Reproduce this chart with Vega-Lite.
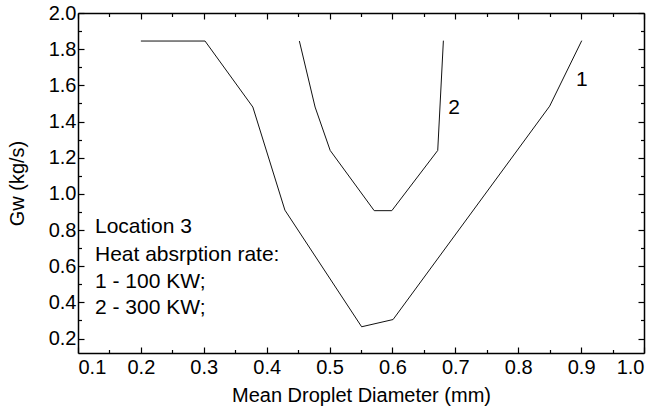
{
  "$schema": "https://vega.github.io/schema/vega-lite/v6.json",
  "width": 566,
  "height": 340,
  "autosize": {"type": "none"},
  "padding": {"left": 78, "top": 13, "right": 17, "bottom": 55},
  "background": "white",
  "config": {
    "view": {"stroke": null},
    "font": "Liberation Sans",
    "axis": {
      "grid": false,
      "domainColor": "black",
      "domainWidth": 1.5,
      "tickColor": "black",
      "tickWidth": 1.2,
      "labelColor": "black",
      "labelFont": "Liberation Sans",
      "labelFontSize": 20,
      "titleFont": "Liberation Sans",
      "titleFontSize": 20,
      "titleFontWeight": "normal",
      "titleColor": "black"
    }
  },
  "datasets": {
    "curves": [
      {"curve": "1", "d": 0.2, "g": 1.845},
      {"curve": "1", "d": 0.302, "g": 1.845},
      {"curve": "1", "d": 0.378, "g": 1.48},
      {"curve": "1", "d": 0.429, "g": 0.91},
      {"curve": "1", "d": 0.551, "g": 0.265},
      {"curve": "1", "d": 0.601, "g": 0.305},
      {"curve": "1", "d": 0.85, "g": 1.485},
      {"curve": "1", "d": 0.901, "g": 1.847},
      {"curve": "2", "d": 0.452, "g": 1.845},
      {"curve": "2", "d": 0.477, "g": 1.48},
      {"curve": "2", "d": 0.501, "g": 1.24},
      {"curve": "2", "d": 0.571, "g": 0.907},
      {"curve": "2", "d": 0.599, "g": 0.907},
      {"curve": "2", "d": 0.672, "g": 1.24},
      {"curve": "2", "d": 0.681, "g": 1.847}
    ],
    "labels": [
      {"text": "1", "d": 0.901, "g": 1.629},
      {"text": "2", "d": 0.698, "g": 1.472}
    ],
    "notes": [
      {"text": "Location 3", "d": 0.127, "g": 0.814},
      {"text": "Heat absrption rate:", "d": 0.127, "g": 0.661},
      {"text": "1 - 100 KW;", "d": 0.127, "g": 0.513},
      {"text": "2 - 300 KW;", "d": 0.127, "g": 0.367}
    ]
  },
  "resolve": {"axis": {"x": "independent", "y": "independent"}},
  "layer": [
    {
      "data": {"name": "curves"},
      "mark": {"type": "line", "color": "#111111", "strokeWidth": 1},
      "encoding": {
        "x": {
          "field": "d", "type": "quantitative",
          "scale": {"domain": [0.1, 1.0], "nice": false, "zero": false},
          "axis": {"orient": "bottom", "values": [0.1,0.2,0.3,0.4,0.5,0.6,0.7,0.8,0.9,1.0], "format": ".1f", "tickSize": -6, "labelPadding": 10, "labelFontSize": 20, "titleFontSize": 20, "title": "Mean Droplet Diameter (mm)", "titlePadding": 8}
        },
        "y": {
          "field": "g", "type": "quantitative",
          "scale": {"domain": [0.12, 2.0], "nice": false, "zero": false},
          "axis": {"orient": "left", "values": [0.2,0.4,0.6,0.8,1.0,1.2,1.4,1.6,1.8,2.0], "format": ".1f", "tickSize": -6, "labelPadding": 8, "labelFontSize": 20, "titleFontSize": 20, "title": "Gw (kg/s)", "titlePadding": 21}
        },
        "detail": {"field": "curve"}
      }
    },
    {
      "data": {"name": "labels"},
      "mark": {"type": "text", "fontSize": 21, "color": "black", "font": "Liberation Sans", "align": "center", "baseline": "middle"},
      "encoding": {
        "x": {"field": "d", "type": "quantitative", "axis": {"orient": "top", "values": [0.1,0.2,0.3,0.4,0.5,0.6,0.7,0.8,0.9,1.0], "labels": false, "tickSize": -6, "title": null}},
        "y": {"field": "g", "type": "quantitative", "axis": {"orient": "right", "values": [0.2,0.4,0.6,0.8,1.0,1.2,1.4,1.6,1.8,2.0], "labels": false, "tickSize": -6, "title": null}},
        "text": {"field": "text"}
      }
    },
    {
      "data": {"name": "notes"},
      "mark": {"type": "text", "fontSize": 21, "color": "black", "font": "Liberation Sans", "align": "left", "baseline": "middle"},
      "encoding": {
        "x": {"field": "d", "type": "quantitative", "axis": {"orient": "bottom", "values": [0.15,0.25,0.35,0.45,0.55,0.65,0.75,0.85,0.95], "labels": false, "domain": false, "tickSize": -3.5, "title": null}},
        "y": {"field": "g", "type": "quantitative", "axis": {"orient": "left", "values": [0.3,0.5,0.7,0.9,1.1,1.3,1.5,1.7,1.9], "labels": false, "domain": false, "tickSize": -3.5, "title": null}},
        "text": {"field": "text"}
      }
    },
    {
      "data": {"name": "curves"},
      "mark": {"type": "point", "opacity": 0},
      "encoding": {
        "x": {"field": "d", "type": "quantitative", "axis": {"orient": "top", "values": [0.15,0.25,0.35,0.45,0.55,0.65,0.75,0.85,0.95], "labels": false, "domain": false, "tickSize": -3.5, "title": null}},
        "y": {"field": "g", "type": "quantitative", "axis": {"orient": "right", "values": [0.3,0.5,0.7,0.9,1.1,1.3,1.5,1.7,1.9], "labels": false, "domain": false, "tickSize": -3.5, "title": null}}
      }
    }
  ]
}
